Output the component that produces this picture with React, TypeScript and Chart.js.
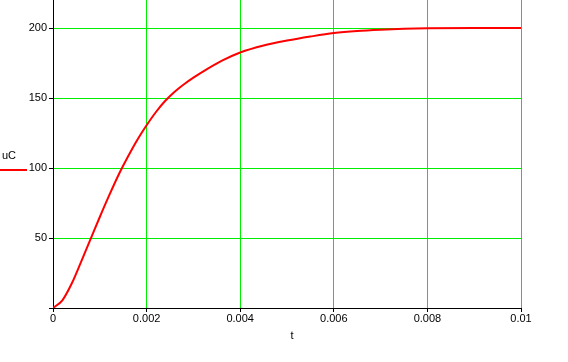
import React, { useEffect, useRef } from "react";
import { Chart, registerables } from "chart.js";

Chart.register(...registerables);

const tValues = [0, 0.0002, 0.0004, 0.0006, 0.0008, 0.001, 0.0012, 0.0014, 0.0016, 0.0018, 0.002, 0.0022, 0.0024, 0.0026, 0.0028, 0.003, 0.0033, 0.0036, 0.004, 0.0045, 0.005, 0.0055, 0.006, 0.0065, 0.007, 0.0075, 0.008, 0.009, 0.01];
const uCValues = [0, 5.5, 17.5, 33, 49, 65, 80.4, 95, 108, 120, 130.5, 140, 148, 154.5, 159.8, 164.5, 170.8, 176.5, 182.5, 187.5, 191, 193.9, 196.4, 197.9, 198.8, 199.4, 199.8, 200, 200];
const xTicks = [0, 0.002, 0.004, 0.006, 0.008, 0.01];
const xTickLabels = ["0", "0.002", "0.004", "0.006", "0.008", "0.01"];
const yTicks = [0, 50, 100, 150, 200];
const yTickLabels = ["", "50", "100", "150", "200"];
const seriesName = "uC";
const xTitle = "t";

const FONT = "'Liberation Sans Narrow', 'Liberation Sans', Arial, sans-serif";
const GRID = "#00ee00";

export default function App() {
  const ref = useRef<HTMLCanvasElement | null>(null);
  useEffect(() => {
    if (!ref.current) return;
    const labelsPlugin = {
      id: "labelsPlugin",
      afterDraw(chart: any) {
        const ctx = chart.ctx;
        ctx.save();
        ctx.fillStyle = "#000";
        ctx.font = `11px ${FONT}`;
        ctx.textBaseline = "middle";
        ctx.textAlign = "left";
        ctx.fillText(seriesName, 2, 156);
        ctx.strokeStyle = "#ff0000";
        ctx.lineWidth = 2;
        ctx.beginPath();
        ctx.moveTo(0, 170);
        ctx.lineTo(27, 170);
        ctx.stroke();
        ctx.textAlign = "center";
        ctx.fillText(xTitle, 292, 336);
        ctx.restore();
      },
    };
    const chart = new Chart(ref.current, {
      type: "line",
      data: {
        datasets: [
          {
            label: seriesName,
            data: tValues.map((t, i) => ({ x: t, y: uCValues[i] })),
            borderColor: "#ff0000",
            borderWidth: 2,
            pointRadius: 0,
            cubicInterpolationMode: "monotone",
            fill: false,
          },
        ],
      },
      options: {
        responsive: false,
        animation: false,
        layout: { padding: { left: 0, top: 0, right: 47, bottom: 0 } },
        plugins: { legend: { display: false }, tooltip: { enabled: false } },
        scales: {
          x: {
            type: "linear",
            min: 0,
            max: 0.01,
            afterBuildTicks: (s: any) => {
              s.ticks = xTicks.map((v) => ({ value: v }));
            },
            afterFit: (s: any) => {
              s.height = 54;
              s.paddingLeft = 0;
              s.paddingRight = 0;
            },
            grid: { color: GRID, tickColor: "#000", tickLength: 4, lineWidth: 1 },
            border: { color: "#000", width: 1 },
            ticks: {
              color: "#000",
              font: { family: FONT, size: 11 },
              padding: 0,
              maxRotation: 0,
              autoSkip: false,
              callback: (v: any, i: number) => xTickLabels[i],
            },
          },
          y: {
            type: "linear",
            min: 0,
            max: 220,
            afterBuildTicks: (s: any) => {
              s.ticks = yTicks.map((v) => ({ value: v }));
            },
            afterFit: (s: any) => {
              s.width = 53;
              s.paddingTop = 0;
              s.paddingBottom = 0;
            },
            grid: { color: GRID, tickColor: "#000", tickLength: 4, lineWidth: 1 },
            border: { color: "#000", width: 1 },
            ticks: {
              color: "#000",
              font: { family: FONT, size: 11 },
              padding: 2,
              autoSkip: false,
              callback: (v: any, i: number) => yTickLabels[i],
            },
          },
        },
      },
      plugins: [labelsPlugin],
    } as any);
    return () => chart.destroy();
  }, []);
  return (
    <div style={{ position: "fixed", left: 0, top: 0, width: 568, height: 362, background: "#fff" }}>
      <canvas ref={ref} width={568} height={362} style={{ width: 568, height: 362, display: "block" }} />
    </div>
  );
}
